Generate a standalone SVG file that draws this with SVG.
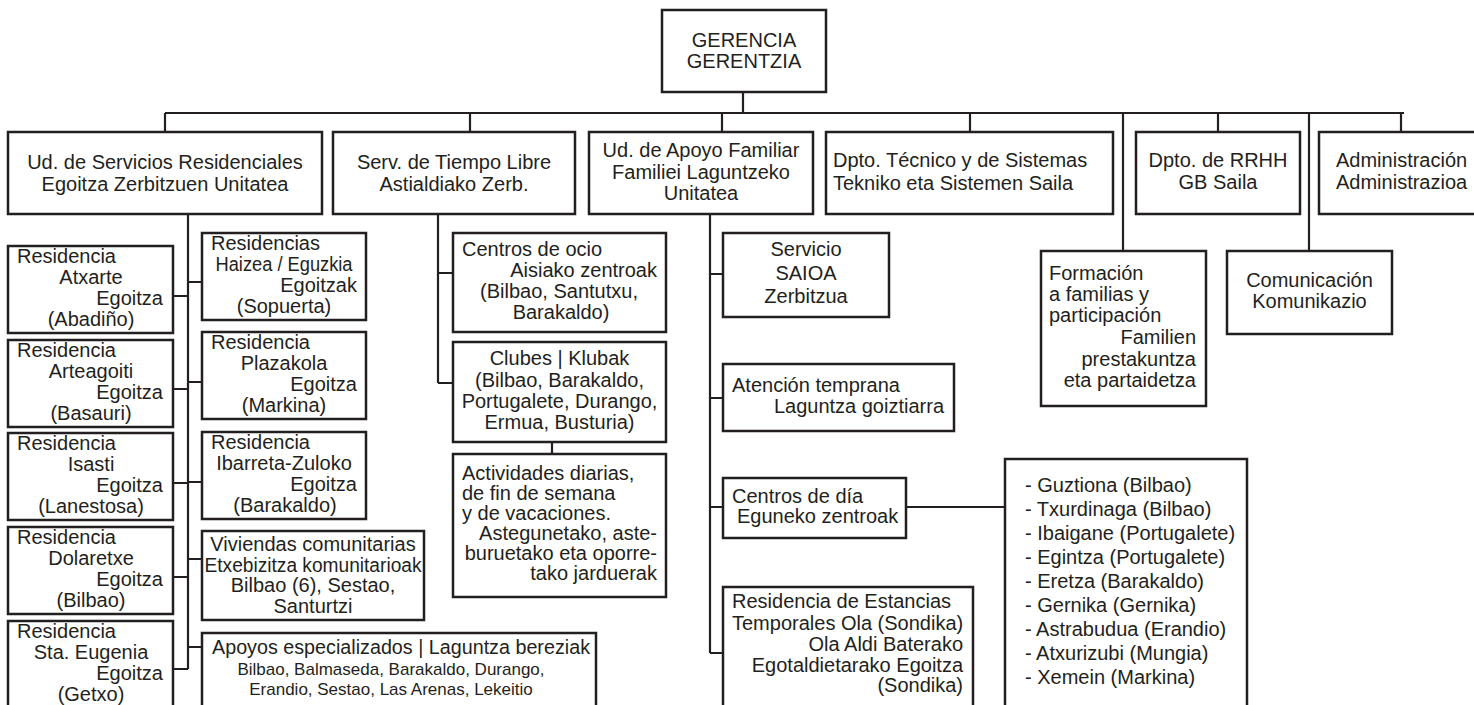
<svg xmlns="http://www.w3.org/2000/svg" width="1474" height="705" viewBox="0 0 1474 705">
<style>
rect{fill:#fff;stroke:#231f20;stroke-width:2.5}
#connectors path{fill:none;stroke:#231f20;stroke-width:2.2}
text{font-family:"Liberation Sans",Arial,Helvetica,sans-serif;font-size:20px;fill:#231f20}
.m{text-anchor:middle}
.e{text-anchor:end}
.s{font-size:17px}
</style>
<rect x="0" y="0" width="1474" height="705" style="fill:#fff;stroke:none"/>
<g id="connectors">
<path d="M743 92V113M165 113H1404M165 113V132M470 113V132M722 113V132M970 113V132M1123 113V251M1218 113V132M1309 113V251M1401 113V132"/>
<path d="M188 214V669M173 296H188M173 389H188M173 483H188M173 577H188M173 669H188M188 282H202M188 382H202M188 482H202M188 559H202M188 647H202"/>
<path d="M438 214V383M438 273H453M438 383H453M552 442V454"/>
<path d="M710 214V653M710 274H723M710 398H723M710 507H723M710 653H723M906 507H1005"/>
</g>
<g id="gerencia"><rect x="662" y="10" width="164" height="82"/><text class="m" x="744" y="47">GERENCIA</text><text class="m" x="744" y="68">GERENTZIA</text></g>
<g id="ud-servicios"><rect x="8" y="132" width="314" height="82"/><text class="m" x="165" y="169">Ud. de Servicios Residenciales</text><text class="m" x="165" y="191">Egoitza Zerbitzuen Unitatea</text></g>
<g id="serv-tiempo"><rect x="333" y="132" width="242" height="82"/><text class="m" x="454" y="169">Serv. de Tiempo Libre</text><text class="m" x="454" y="191">Astialdiako Zerb.</text></g>
<g id="ud-apoyo"><rect x="589" y="132" width="224" height="82"/><text class="m" x="701" y="157">Ud. de Apoyo Familiar</text><text class="m" x="701" y="178.5">Familiei Laguntzeko</text><text class="m" x="701" y="200">Unitatea</text></g>
<g id="dpto-tecnico"><rect x="826" y="132" width="287" height="82"/><text x="833" y="167">Dpto. Técnico y de Sistemas</text><text x="833" y="190">Tekniko eta Sistemen Saila</text></g>
<g id="rrhh"><rect x="1136" y="132" width="164" height="82"/><text class="m" x="1218" y="167">Dpto. de RRHH</text><text class="m" x="1218" y="189">GB Saila</text></g>
<g id="administracion"><rect x="1319" y="132" width="170" height="82"/><text x="1336" y="167">Administración</text><text x="1336" y="189">Administrazioa</text></g>
<g id="formacion"><rect x="1041" y="251" width="165" height="155"/><text x="1049" y="280">Formación</text><text x="1049" y="301">a familias y</text><text x="1049" y="322">participación</text><text class="e" x="1196" y="344">Familien</text><text class="e" x="1196" y="366">prestakuntza</text><text class="e" x="1196" y="387">eta partaidetza</text></g>
<g id="comunicacion"><rect x="1227" y="251" width="165" height="83"/><text class="m" x="1309.5" y="287">Comunicación</text><text class="m" x="1309.5" y="308">Komunikazio</text></g>
<g id="res-atxarte"><rect x="8" y="246" width="165" height="87"/><text x="17" y="263">Residencia</text><text class="m" x="91" y="284">Atxarte</text><text class="e" x="163" y="305">Egoitza</text><text class="m" x="91" y="326">(Abadiño)</text></g>
<g id="res-arteagoiti"><rect x="8" y="340" width="165" height="87"/><text x="17" y="357">Residencia</text><text class="m" x="91" y="378">Arteagoiti</text><text class="e" x="163" y="399">Egoitza</text><text class="m" x="91" y="420">(Basauri)</text></g>
<g id="res-isasti"><rect x="8" y="433" width="165" height="87"/><text x="17" y="450">Residencia</text><text class="m" x="91" y="471">Isasti</text><text class="e" x="163" y="492">Egoitza</text><text class="m" x="91" y="513">(Lanestosa)</text></g>
<g id="res-dolaretxe"><rect x="8" y="527" width="165" height="87"/><text x="17" y="544">Residencia</text><text class="m" x="91" y="565">Dolaretxe</text><text class="e" x="163" y="586">Egoitza</text><text class="m" x="91" y="607">(Bilbao)</text></g>
<g id="res-eugenia"><rect x="8" y="621" width="165" height="95"/><text x="17" y="638">Residencia</text><text class="m" x="91" y="659">Sta. Eugenia</text><text class="e" x="163" y="680">Egoitza</text><text class="m" x="91" y="701">(Getxo)</text></g>
<g id="res-haizea"><rect x="202" y="233" width="164" height="87"/><text x="211" y="250">Residencias</text><text class="m" x="284" y="271" textLength="137" lengthAdjust="spacingAndGlyphs">Haizea / Eguzkia</text><text class="e" x="357" y="292">Egoitzak</text><text class="m" x="284" y="313">(Sopuerta)</text></g>
<g id="res-plazakola"><rect x="202" y="332" width="164" height="87"/><text x="211" y="349">Residencia</text><text class="m" x="284" y="370">Plazakola</text><text class="e" x="357" y="391">Egoitza</text><text class="m" x="284" y="412">(Markina)</text></g>
<g id="res-ibarreta"><rect x="202" y="432" width="164" height="87"/><text x="211" y="449">Residencia</text><text class="m" x="284" y="470">Ibarreta-Zuloko</text><text class="e" x="357" y="491">Egoitza</text><text class="m" x="285" y="512">(Barakaldo)</text></g>
<g id="viviendas"><rect x="202" y="531" width="222" height="89"/><text class="m" x="313" y="551">Viviendas comunitarias</text><text class="m" x="313" y="572" textLength="217" lengthAdjust="spacingAndGlyphs">Etxebizitza komunitarioak</text><text class="m" x="313" y="592">Bilbao (6), Sestao,</text><text class="m" x="313" y="613">Santurtzi</text></g>
<g id="apoyos"><rect x="202" y="633" width="394" height="85"/><text x="212" y="654" textLength="378" lengthAdjust="spacingAndGlyphs">Apoyos especializados | Laguntza bereziak</text><text class="m s" x="391" y="675">Bilbao, Balmaseda, Barakaldo, Durango,</text><text class="m s" x="391" y="695">Erandio, Sestao, Las Arenas, Lekeitio</text></g>
<g id="centros-ocio"><rect x="453" y="233" width="213" height="99"/><text x="462" y="256">Centros de ocio</text><text class="e" x="657" y="277">Aisiako zentroak</text><text class="m" x="559" y="298">(Bilbao, Santutxu,</text><text class="m" x="561" y="319">Barakaldo)</text></g>
<g id="clubes"><rect x="453" y="342" width="213" height="100"/><text class="m" x="559.5" y="365">Clubes | Klubak</text><text class="m" x="559.5" y="387">(Bilbao, Barakaldo,</text><text class="m" x="559.5" y="408">Portugalete, Durango,</text><text class="m" x="559.5" y="429">Ermua, Busturia)</text></g>
<g id="actividades"><rect x="453" y="454" width="213" height="143"/><text x="462" y="480">Actividades diarias,</text><text x="462" y="500">de fin de semana</text><text x="462" y="520">y de vacaciones.</text><text class="e" x="657" y="540">Astegunetako, aste-</text><text class="e" x="657" y="560">buruetako eta oporre-</text><text class="e" x="657" y="580">tako jarduerak</text></g>
<g id="saioa"><rect x="723" y="233" width="166" height="84"/><text class="m" x="806" y="256">Servicio</text><text class="m" x="806" y="280">SAIOA</text><text class="m" x="806" y="303">Zerbitzua</text></g>
<g id="atencion"><rect x="723" y="364" width="231" height="67"/><text x="732" y="392">Atención temprana</text><text class="e" x="944" y="413">Laguntza goiztiarra</text></g>
<g id="centros-dia"><rect x="723" y="478" width="183" height="60"/><text x="732" y="503">Centros de día</text><text x="737" y="523">Eguneko zentroak</text></g>
<g id="res-estancias"><rect x="723" y="587" width="250" height="130"/><text x="732" y="608">Residencia de Estancias</text><text x="732" y="630">Temporales Ola (Sondika)</text><text class="e" x="963" y="651">Ola Aldi Baterako</text><text class="e" x="963" y="672">Egotaldietarako Egoitza</text><text class="e" x="963" y="692">(Sondika)</text></g>
<g id="lista-centros"><rect x="1005" y="459" width="242" height="260"/><text x="1025" y="492">- Guztiona (Bilbao)</text><text x="1025" y="516">- Txurdinaga (Bilbao)</text><text x="1025" y="540">- Ibaigane (Portugalete)</text><text x="1025" y="564">- Egintza (Portugalete)</text><text x="1025" y="588">- Eretza (Barakaldo)</text><text x="1025" y="612">- Gernika (Gernika)</text><text x="1025" y="636">- Astrabudua (Erandio)</text><text x="1025" y="660">- Atxurizubi (Mungia)</text><text x="1025" y="684">- Xemein (Markina)</text></g>
</svg>
